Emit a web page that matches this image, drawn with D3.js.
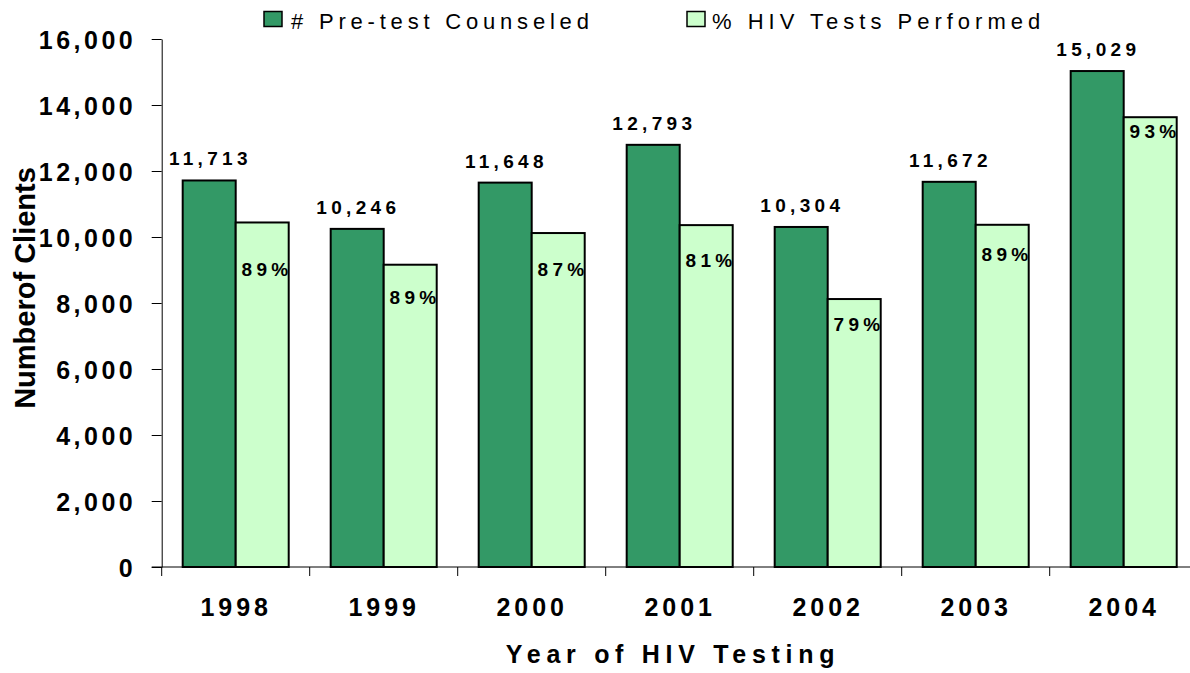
<!DOCTYPE html>
<html>
<head>
<meta charset="utf-8">
<script src="https://cdn.jsdelivr.net/npm/d3@7"></script>
<style>
  html, body { margin: 0; padding: 0; background: #fff; }
  svg { display: block; }
  text { font-family: Arial, "Liberation Sans", sans-serif; fill: #000; }
</style>
</head>
<body>
<svg id="chart" width="1190" height="673"></svg>
<script>
// ---- data ----
const years = ["1998", "1999", "2000", "2001", "2002", "2003", "2004"];
const counseled = [11713, 10246, 11648, 12793, 10304, 11672, 15029];
const tested = [10440, 9160, 10120, 10360, 8120, 10370, 13630];
const testedPct = [89, 89, 87, 81, 79, 89, 93];
const yTicks = [0, 2000, 4000, 6000, 8000, 10000, 12000, 14000, 16000];
const seriesNames = ["# Pre-test Counseled", "% HIV Tests Performed"];

// ---- layout (not data) ----
const pctLabelDrop = [54, 39, 43, 42, 32, 36, 21];
const colors = ["#339966", "#CCFFCC"];

const svg = d3.select("#chart");
const plotLeft = 161.7, plotRight = 1197.7, plotTop = 39, plotBottom = 567;

const x = d3.scaleBand().domain(years).range([plotLeft, plotRight]).paddingInner(0).paddingOuter(0);
const x1 = d3.scaleBand().domain([0, 1]).range([0, x.bandwidth()]).paddingInner(0).paddingOuter(0.396);
const y = d3.scaleLinear().domain([0, 16000]).range([plotBottom, plotTop]);

// Bars
const rows = years.map((yr, i) => ({ yr, vals: [counseled[i], tested[i]], pct: testedPct[i], drop: pctLabelDrop[i] }));

const groups = svg.append("g").selectAll("g").data(rows).join("g")
  .attr("transform", d => `translate(${x(d.yr)},0)`);

groups.selectAll("rect").data(d => d.vals.map((v, k) => ({ v, k }))).join("rect")
  .attr("x", d => x1(d.k))
  .attr("y", d => y(d.v))
  .attr("width", x1.bandwidth())
  .attr("height", d => y(0) - y(d.v))
  .attr("fill", d => colors[d.k])
  .attr("stroke", "#000")
  .attr("stroke-width", 2);

// Value labels on dark bars
const valLs = 4.3;
groups.append("text")
  .attr("x", d => x1(0) + x1.bandwidth() / 2 + valLs / 2 - 1)
  .attr("y", d => y(d.vals[0]) - 15)
  .attr("text-anchor", "middle")
  .style("font-size", "19px").style("font-weight", "bold").style("letter-spacing", valLs + "px")
  .text(d => d3.format(",")(d.vals[0]));

// Percent labels inside light bars
groups.append("text")
  .attr("x", d => x1(1) + x1.bandwidth() + valLs - 0.5)
  .attr("y", d => y(d.vals[1]) + d.drop)
  .attr("text-anchor", "end")
  .style("font-size", "19px").style("font-weight", "bold").style("letter-spacing", valLs + "px")
  .text(d => d.pct + "%");

// Y axis
const tickLs = 3.5;
const yAxis = svg.append("g").attr("transform", `translate(${plotLeft},0)`)
  .call(d3.axisLeft(y).tickValues(yTicks).tickSize(10).tickSizeOuter(0).tickPadding(15.5).tickFormat(d3.format(",")));
yAxis.select(".domain").attr("stroke", "#000").attr("stroke-width", 1);
yAxis.selectAll(".tick line").attr("stroke", "#000");
yAxis.selectAll(".tick text")
  .attr("dy", "0.36em")
  .style("font-size", "25px").style("font-weight", "bold").style("letter-spacing", tickLs + "px")
  .style("font-family", "Arial, 'Liberation Sans', sans-serif");

// X axis baseline and ticks at band boundaries
svg.append("line")
  .attr("x1", plotLeft - 10).attr("x2", plotRight)
  .attr("y1", y(0)).attr("y2", y(0))
  .attr("stroke", "#000").attr("stroke-width", 1);

const boundaries = years.map(yr => x(yr)).concat([plotRight]);
svg.append("g").selectAll("line").data(boundaries).join("line")
  .attr("x1", d => d).attr("x2", d => d)
  .attr("y1", y(0)).attr("y2", y(0) + 9)
  .attr("stroke", "#000").attr("stroke-width", 1);

const xLs = 4;
svg.append("g").selectAll("text").data(years).join("text")
  .attr("x", d => x(d) + x.bandwidth() / 2 + xLs / 2 - 1.5)
  .attr("y", 615.5)
  .attr("text-anchor", "middle")
  .style("font-size", "25px").style("font-weight", "bold").style("letter-spacing", xLs + "px")
  .text(d => d);

// Axis titles
svg.append("text")
  .attr("x", 673).attr("y", 663)
  .attr("text-anchor", "middle")
  .style("font-size", "25px").style("font-weight", "bold").style("letter-spacing", "5.7px")
  .text("Year of HIV Testing");

svg.append("text")
  .attr("transform", "translate(35,288) rotate(-90)")
  .attr("text-anchor", "middle")
  .style("font-size", "29px").style("font-weight", "bold")
  .text("Numberof Clients");

// Legend
const legendItems = [
  { name: seriesNames[0], color: colors[0], bx: 264, tx: 291 },
  { name: seriesNames[1], color: colors[1], bx: 687, tx: 712 }
];
const leg = svg.append("g").selectAll("g").data(legendItems).join("g");
leg.append("rect")
  .attr("x", d => d.bx).attr("y", 11.5)
  .attr("width", 18).attr("height", 15)
  .attr("fill", d => d.color).attr("stroke", "#000").attr("stroke-width", 1.5);
leg.append("text")
  .attr("x", d => d.tx).attr("y", 29.3)
  .style("font-size", "22px").style("letter-spacing", (d, i) => (i === 0 ? 4.8 : 5.0) + "px")
  .text(d => d.name);
</script>
</body>
</html>
